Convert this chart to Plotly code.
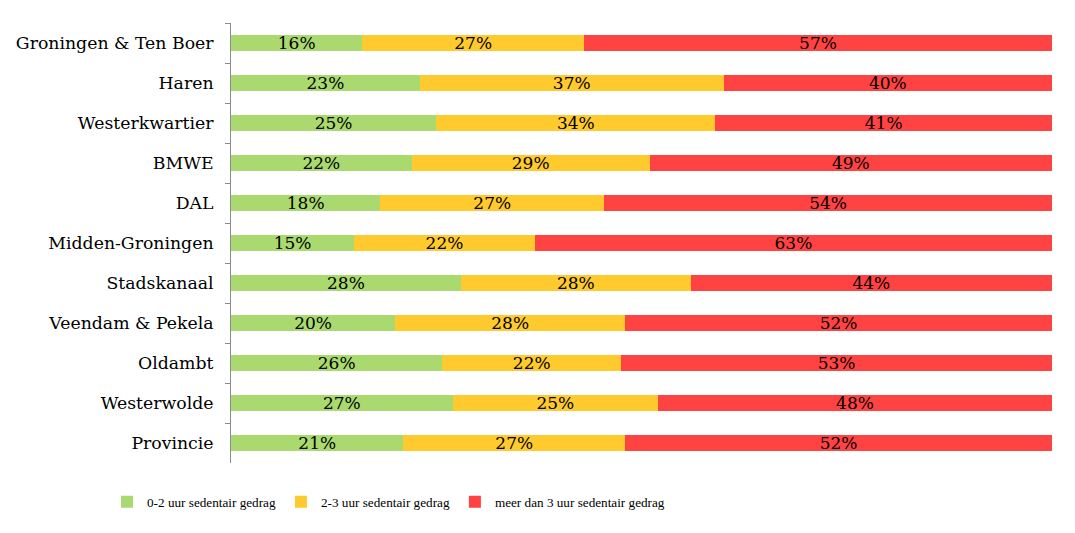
import plotly.graph_objects as go

categories = ["Groningen & Ten Boer", "Haren", "Westerkwartier", "BMWE", "DAL",
              "Midden-Groningen", "Stadskanaal", "Veendam & Pekela", "Oldambt",
              "Westerwolde", "Provincie"]
low = [16, 23, 25, 22, 18, 15, 28, 20, 26, 27, 21]
mid = [27, 37, 34, 29, 27, 22, 28, 28, 22, 25, 27]
high = [57, 40, 41, 49, 54, 63, 44, 52, 53, 48, 52]
series_names = ["0-2 uur sedentair gedrag", "2-3 uur sedentair gedrag",
                "meer dan 3 uur sedentair gedrag"]
colors = ["#A9D96F", "#FFCA2E", "#FF4343"]

serif = "DejaVu Serif, Cambria, Liberation Serif, serif"

fig = go.Figure()
for name, vals, col in zip(series_names, [low, mid, high], colors):
    fig.add_trace(go.Bar(
        y=categories, x=vals, name=name, orientation="h",
        marker=dict(color=col, line=dict(width=0)),
        text=[f"{v}%" for v in vals], textposition="inside",
        insidetextanchor="middle", constraintext="none",
        textfont=dict(family=serif, size=17, color="black"),
        hoverinfo="skip",
    ))

fig.update_layout(
    width=1075, height=533,
    barmode="stack", barnorm="percent", bargap=0.6,
    margin=dict(l=231, r=23, t=23, b=70),
    plot_bgcolor="white", paper_bgcolor="white",
    showlegend=True,
    legend=dict(orientation="h", x=-0.151, xanchor="left", y=-0.089, yanchor="middle",
                traceorder="normal",
                font=dict(family="Liberation Serif, serif", size=13.2, color="black")),
    xaxis=dict(range=[0, 100], showgrid=False, showticklabels=False, zeroline=False,
               showline=False, ticks=""),
    yaxis=dict(autorange="reversed", categoryorder="array", categoryarray=categories,
               showline=True, linecolor="#8C8C8C", linewidth=1,
               ticks="outside", tickson="boundaries", ticklen=5, tickcolor="#8C8C8C",
               ticklabelstandoff=13,
               tickfont=dict(family=serif, size=17.3, color="black"), showgrid=False),
)

fig.write_html("out.html", config={"displayModeBar": False},
               post_script="document.body.style.margin='0';")
